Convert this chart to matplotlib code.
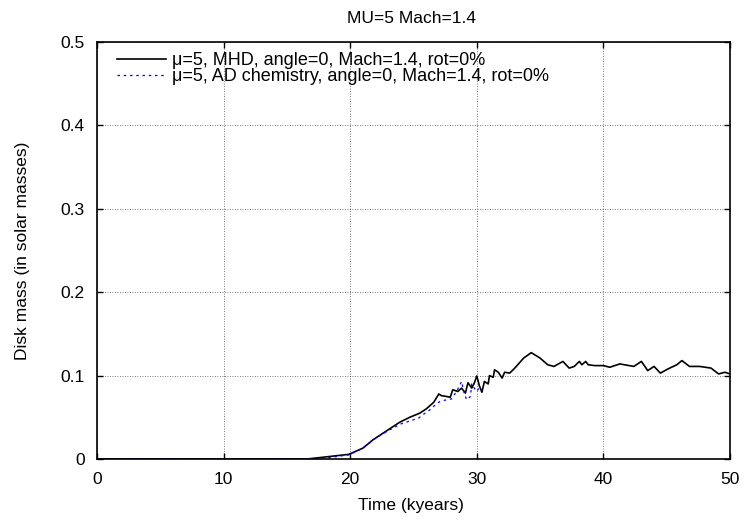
import matplotlib
matplotlib.use("Agg")
import matplotlib.pyplot as plt

plt.rcParams['font.family'] = ['Liberation Sans', 'DejaVu Sans']

title = "MU=5 Mach=1.4"
xlabel = "Time (kyears)"
ylabel = "Disk mass (in solar masses)"
label_mhd = "\u03bc=5, MHD, angle=0, Mach=1.4, rot=0%"
label_ad = "\u03bc=5, AD chemistry, angle=0, Mach=1.4, rot=0%"

t_mhd = [0, 16.6, 19.9, 21.0, 21.8, 22.1, 23.1, 23.9, 24.7, 25.5, 25.8, 26.0, 26.6, 27.0,
         27.2, 27.6, 27.9, 28.1, 28.5, 28.8, 29.1, 29.3, 29.6, 29.8, 30.0, 30.2, 30.4, 30.6,
         30.9, 31.0, 31.3, 31.4, 31.7, 32.0, 32.2, 32.6, 33.0, 33.7, 34.3, 35.0, 35.6, 36.1,
         36.8, 37.3, 37.7, 38.1, 38.3, 38.6, 38.8, 39.3, 40.0, 40.5, 41.3, 42.4, 43.0, 43.5,
         44.0, 44.5, 45.1, 45.8, 46.2, 46.8, 47.6, 48.5, 49.1, 49.6, 50.0]
m_mhd = [0, 0, 0.0056, 0.013, 0.023, 0.026, 0.036, 0.044, 0.050, 0.055, 0.058, 0.060, 0.068,
         0.078, 0.076, 0.075, 0.074, 0.083, 0.081, 0.085, 0.079, 0.0915, 0.085, 0.091, 0.0995,
         0.088, 0.080, 0.093, 0.090, 0.100, 0.098, 0.107, 0.104, 0.097, 0.104, 0.103, 0.109,
         0.121, 0.1275, 0.121, 0.113, 0.111, 0.117, 0.109, 0.111, 0.117, 0.113, 0.117, 0.113,
         0.112, 0.112, 0.110, 0.114, 0.111, 0.117, 0.106, 0.111, 0.103, 0.108, 0.113, 0.118,
         0.111, 0.111, 0.109, 0.102, 0.104, 0.102]

t_ad = [0, 16.6, 18.5, 19.9, 21.0, 22.0, 23.0, 24.0, 25.0, 25.4, 26.0, 26.3, 26.8, 27.1,
        27.6, 28.0, 28.4, 28.8, 29.0, 29.2, 29.5, 29.6, 29.8, 30.0, 30.3]
m_ad = [0, 0, 0.002, 0.005, 0.013, 0.025, 0.034, 0.042, 0.047, 0.049, 0.056, 0.059, 0.066,
        0.069, 0.071, 0.072, 0.081, 0.093, 0.079, 0.071, 0.075, 0.090, 0.085, 0.081, 0.088]

xticks = [0, 10, 20, 30, 40, 50]
yticks = [0, 0.1, 0.2, 0.3, 0.4, 0.5]
yticklabels = ["0", "0.1", "0.2", "0.3", "0.4", "0.5"]

FS = 12.5
LFS = 13
W, H = 744, 521
L, R, T, B = 97, 730, 42, 459

fig = plt.figure(figsize=(W / 100, H / 100), dpi=100)
ax = fig.add_axes([L / W, 1 - B / H, (R - L) / W, (B - T) / H])

ax.plot(t_mhd, m_mhd, color='black', lw=1.2, label=label_mhd)
ax.plot(t_ad, m_ad, color='blue', lw=0.9, ls=(0, (2, 3)), label=label_ad)

ax.set_xlim(0, 50)
ax.set_ylim(0, 0.5)
ax.set_xticks(xticks)
ax.set_xticklabels([str(v) for v in xticks])
ax.set_yticks(yticks)
ax.set_yticklabels(yticklabels)
ax.tick_params(direction='in', top=True, right=True, length=4.5, width=1, labelsize=FS, pad=9)
ax.grid(True, color='black', ls=(0, (1, 2)), lw=0.6, alpha=0.7)
for s in ax.spines.values():
    s.set_linewidth(1.2)

fig.text((L + R) / 2 / W - 0.003, 1 - 23 / H, title, ha='center', va='baseline', fontsize=FS)
fig.text((L + R) / 2 / W - 0.003, 1 - 510 / H, xlabel, ha='center', va='baseline', fontsize=FS)
fig.text(23 / W, 1 - (B + T) / 2 / H, ylabel, ha='center', va='center', rotation=90, fontsize=FS)

leg = ax.legend(loc='upper left', frameon=False, fontsize=LFS, handlelength=2.7,
                borderpad=0, borderaxespad=0, labelspacing=-0.05, handletextpad=0.33,
                bbox_to_anchor=((117 - L) / (R - L), 1 - (52 - T) / (B - T)))

fig.savefig("out.png", dpi=100)
